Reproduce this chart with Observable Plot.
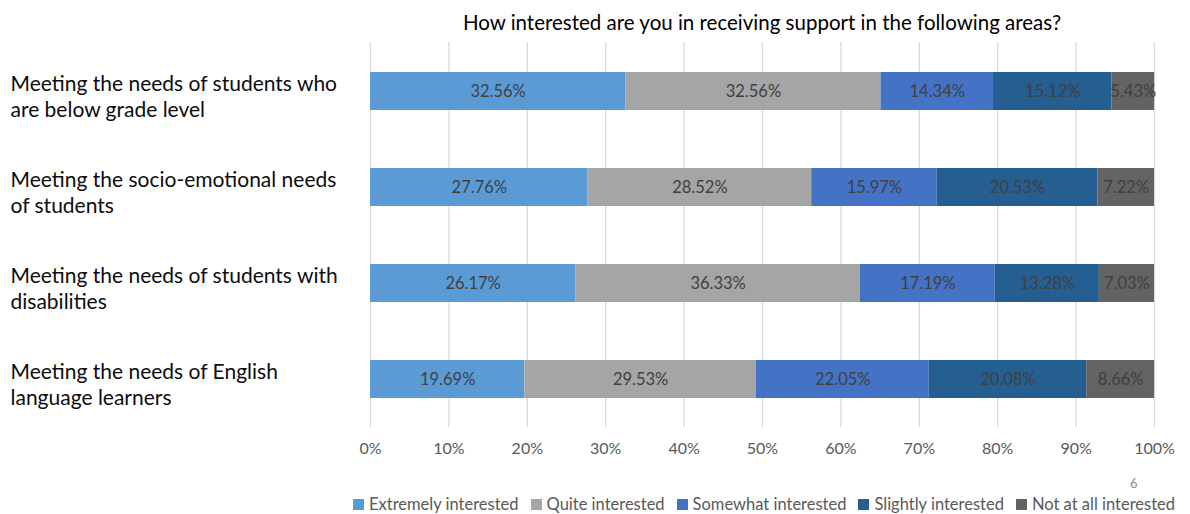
<!DOCTYPE html>
<html>
<head>
<meta charset="utf-8">
<script src="https://cdn.jsdelivr.net/npm/d3@7"></script>
<script src="https://cdn.jsdelivr.net/npm/@observablehq/plot@0.6"></script>
<style>
  html, body { margin: 0; padding: 0; background: #fff; }
  #wrap { position: relative; width: 1190px; height: 514px; font-family: Lato, "Noto Sans", sans-serif; }
  #title { box-sizing: border-box; height: 36px; padding: 10px 36px 0 370px; text-align: center; font-size: 20.5px; line-height: 24px; color: #000; white-space: nowrap; }
  #chart svg { display: block; }
  #pagenum { position: absolute; left: 1130px; top: 476px; font-size: 13px; line-height: 15px; color: #8c8c8c; }
  #legend { position: absolute; left: 353px; top: 495px; display: flex; align-items: center; font-size: 16.5px; line-height: 19px; color: #595959; white-space: nowrap; }
  .item { display: flex; align-items: center; margin-right: 12px; }
  .sw { width: 11px; height: 11px; margin-right: 5px; }
</style>
</head>
<body>
<div id="wrap">
  <div id="title"></div>
  <div id="chart"></div>
  <div id="pagenum">6</div>
  <div id="legend"></div>
</div>
<script>
const titleText = "How interested are you in receiving support in the following areas?";
const categories = [
  "Meeting the needs of students who\nare below grade level",
  "Meeting the socio-emotional needs\nof students",
  "Meeting the needs of students with\ndisabilities",
  "Meeting the needs of English\nlanguage learners"
];
const series = ["Extremely interested", "Quite interested", "Somewhat interested", "Slightly interested", "Not at all interested"];
const colors = ["#5b9bd5", "#a5a5a5", "#4472c4", "#255e91", "#636363"];
const extremely = [32.56, 27.76, 26.17, 19.69];
const quite     = [32.56, 28.52, 36.33, 29.53];
const somewhat  = [14.34, 15.97, 17.19, 22.05];
const slightly  = [15.12, 20.53, 13.28, 20.08];
const notAtAll  = [5.43, 7.22, 7.03, 8.66];
const xTicks = [0, 10, 20, 30, 40, 50, 60, 70, 80, 90, 100];

const seriesValues = [extremely, quite, somewhat, slightly, notAtAll];
const data = [];
categories.forEach((c, i) => {
  series.forEach((s, j) => data.push({cat: c, series: s, value: seriesValues[j][i]}));
});

document.getElementById("title").textContent = titleText;

const chart = Plot.plot({
  width: 1190,
  height: 440,
  marginLeft: 370,
  marginRight: 36,
  marginTop: 6,
  marginBottom: 49,
  style: {fontFamily: "Lato, 'Noto Sans', sans-serif", background: "white"},
  x: {domain: [0, 100], label: null},
  y: {domain: categories, paddingInner: 0.605, paddingOuter: 0.3025, axis: null},
  color: {domain: series, range: colors},
  marks: [
    Plot.ruleX(xTicks, {stroke: "#d9d9d9", strokeWidth: 1.3}),
    Plot.barX(data, Plot.stackX({x: "value", y: "cat", fill: "series", order: series})),
    Plot.text(data, Plot.stackX({
      x: "value", y: "cat", z: "series", order: series,
      text: d => d.value.toFixed(2) + "%",
      fill: "#404040", fontSize: 16.5
    })),
    Plot.axisX({ticks: xTicks, tickFormat: d => d + "%", tickSize: 0, tickPadding: 15, fontSize: 16, fill: "#595959", label: null}),
    Plot.text(categories, {
      y: d => d, text: d => d, frameAnchor: "left", dx: -360, dy: 4, textAnchor: "start",
      fontSize: 21, lineHeight: 1.24, fill: "#0d0d0d"
    })
  ]
});
document.getElementById("chart").appendChild(chart);

const legend = document.getElementById("legend");
series.forEach((s, j) => {
  const it = document.createElement("div");
  it.className = "item";
  const sw = document.createElement("div");
  sw.className = "sw";
  sw.style.background = colors[j];
  const t = document.createElement("span");
  t.textContent = s;
  it.appendChild(sw);
  it.appendChild(t);
  legend.appendChild(it);
});
</script>
</body>
</html>
